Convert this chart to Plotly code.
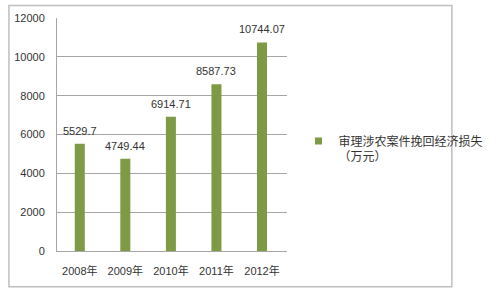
import plotly.graph_objects as go

categories = ["2008年", "2009年", "2010年", "2011年", "2012年"]
values = [5529.7, 4749.44, 6914.71, 8587.73, 10744.07]
labels = ["5529.7", "4749.44", "6914.71", "8587.73", "10744.07"]
series_name = "审理涉农案件挽回经济损失<br>（万元）"

FONT = "Liberation Sans, Noto Sans CJK SC, sans-serif"
TXT = "#333333"
GRID = "#A6A6A6"
GREEN = "#7E9A45"

fig = go.Figure()
fig.add_trace(go.Bar(
    x=categories, y=values, name=series_name,
    marker=dict(color=GREEN, line=dict(width=0)),
    width=0.22, showlegend=False,
))
# legend proxy (small square swatch)
fig.add_trace(go.Scatter(
    x=[None], y=[None], mode="markers", name=series_name,
    marker=dict(symbol="square", size=7, color=GREEN),
    showlegend=True,
))

for c, v, t in zip(categories, values, labels):
    fig.add_annotation(x=c, y=v, text=t, showarrow=False,
                       xanchor="center", yanchor="middle", yshift=13,
                       font=dict(size=11, color=TXT, family=FONT))

fig.update_layout(
    width=500, height=290,
    margin=dict(l=57, r=187, t=16, b=39),
    paper_bgcolor="white", plot_bgcolor="white",
    font=dict(family=FONT, size=11, color=TXT),
    xaxis=dict(showgrid=False, showline=True, linecolor=GRID, linewidth=1,
               ticks="", ticklabelstandoff=10,
               tickfont=dict(size=11, color=TXT)),
    yaxis=dict(range=[0, 12000], dtick=2000, tickformat="d", showgrid=True,
               gridcolor=GRID, gridwidth=1, showline=True, linecolor=GRID,
               linewidth=1, zeroline=False, ticks="", ticklabelstandoff=9,
               tickfont=dict(size=11, color=TXT)),
    legend=dict(x=1.05, y=0.437, xanchor="left", yanchor="middle",
                valign="top",
                font=dict(size=12, color=TXT, family=FONT),
                itemwidth=30, bgcolor="rgba(0,0,0,0)"),
    shapes=[dict(type="rect", xref="paper", yref="paper",
                 x0=-0.2090, x1=1.7168, y0=-0.1532, y1=1.0532,
                 line=dict(color="#BFBFBF", width=1.5), layer="below")],
)

fig.write_html("out.html")
